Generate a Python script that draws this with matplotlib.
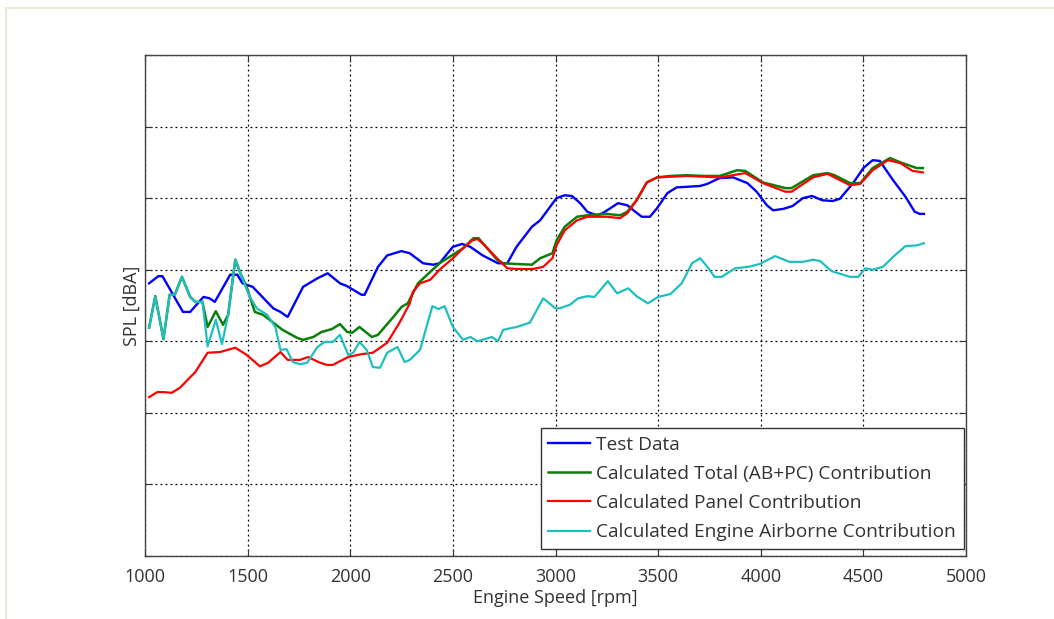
import matplotlib
matplotlib.use("Agg")
import matplotlib.pyplot as plt
from matplotlib.patches import Rectangle

# ---------------- data ----------------
test_rpm = [1020,1065,1085,1185,1220,1285,1315,1340,1415,1450,1475,1525,1625,1660,1695,
            1770,1840,1890,1950,1985,2055,2070,2135,2180,2250,2290,2355,2405,2435,2500,
            2545,2585,2645,2720,2765,2810,2885,2925,3005,3045,3080,3120,3155,3200,3230,
            3305,3350,3380,3420,3460,3495,3545,3590,3705,3740,3800,3865,3935,3980,4030,
            4060,4110,4155,4205,4250,4300,4350,4385,4450,4500,4545,4580,4645,4705,4750,
            4775,4795]
test_spl = [68.1,69.1,69.1,64.1,64.1,66.2,66.0,65.5,69.3,69.3,68.1,67.6,64.6,64.1,63.4,
            67.6,68.8,69.5,68.1,67.7,66.5,66.5,70.4,72.0,72.6,72.3,70.9,70.7,70.9,73.2,
            73.6,73.2,72.0,70.9,70.9,73.2,76.0,76.9,80.0,80.4,80.3,79.3,78.1,77.6,77.9,
            79.3,79.0,78.3,77.4,77.4,78.6,80.7,81.5,81.7,82.0,82.8,82.9,82.1,80.9,79.0,
            78.3,78.5,78.9,80.0,80.3,79.7,79.6,79.9,82.1,84.2,85.3,85.2,82.5,80.2,78.1,
            77.8,77.8]

total_rpm = [1020,1050,1090,1120,1145,1180,1220,1245,1280,1305,1345,1380,1405,1440,1465,
             1495,1535,1575,1625,1670,1740,1770,1820,1860,1910,1950,1985,2010,2045,2105,
             2135,2210,2250,2280,2330,2390,2435,2495,2550,2600,2625,2715,2745,2810,2885,
             2925,2985,3005,3045,3105,3155,3250,3315,3350,3395,3445,3495,3560,3640,3720,
             3800,3885,3925,4010,4120,4150,4255,4325,4360,4435,4485,4545,4630,4680,4760,
             4790]
total_spl = [61.9,66.3,60.3,66.5,66.5,69.0,66.2,65.5,65.5,62.0,64.2,62.3,63.7,71.4,69.5,
             67.6,64.1,63.7,62.6,61.6,60.5,60.2,60.6,61.3,61.7,62.4,61.3,61.2,62.0,60.6,
             60.9,63.4,64.8,65.3,68.1,69.7,70.9,72.0,73.0,74.4,74.4,71.4,70.9,70.8,70.7,
             71.6,72.3,74.1,76.0,77.4,77.6,77.8,77.6,78.1,79.7,82.2,82.9,83.1,83.2,83.1,
             83.1,83.9,83.8,82.2,81.4,81.4,83.2,83.5,83.2,82.1,82.1,84.2,85.6,85.0,84.2,
             84.2]

panel_rpm = [1020,1060,1090,1130,1170,1245,1305,1365,1440,1495,1560,1600,1660,1695,1755,
             1795,1845,1885,1915,1990,2055,2110,2180,2240,2290,2305,2340,2390,2435,2500,
             2550,2595,2620,2655,2715,2765,2810,2890,2940,2985,3005,3045,3105,3155,3250,
             3315,3350,3395,3445,3495,3640,3800,3925,4010,4120,4150,4255,4325,4360,4435,
             4485,4545,4620,4680,4740,4790]
panel_spl = [52.2,52.9,52.9,52.8,53.5,55.7,58.4,58.5,59.1,58.1,56.5,57.0,58.5,57.4,57.4,
             57.8,57.1,56.7,56.7,57.8,58.2,58.4,59.8,62.6,65.3,66.9,68.1,68.6,70.0,71.6,
             73.0,74.1,74.3,73.4,71.6,70.2,70.1,70.1,70.4,71.6,73.4,75.5,76.9,77.4,77.4,
             77.2,77.9,79.7,82.2,82.9,83.1,82.9,83.5,82.1,80.9,80.9,82.9,83.4,82.9,81.8,
             82.0,83.9,85.3,84.9,83.8,83.6]

engine_rpm = [1020,1050,1090,1120,1145,1180,1220,1245,1280,1305,1345,1375,1405,1440,1465,
              1510,1545,1595,1635,1660,1690,1720,1755,1790,1840,1875,1915,1950,1990,2015,
              2045,2080,2110,2145,2180,2230,2265,2290,2340,2400,2430,2460,2500,2550,2585,
              2620,2690,2720,2745,2810,2875,2940,3000,3020,3070,3110,3155,3190,3255,3300,
              3355,3395,3450,3500,3560,3615,3665,3705,3740,3775,3810,3875,3940,3995,4070,
              4140,4205,4255,4290,4345,4435,4475,4510,4545,4595,4645,4705,4760,4795]
engine_spl = [61.9,66.2,60.3,66.5,66.5,69.0,66.2,65.5,65.5,59.3,63.0,59.6,63.7,71.4,69.5,
              66.2,64.6,63.7,62.0,58.8,58.9,57.1,56.8,57.0,59.2,59.9,59.9,60.9,58.1,58.4,
              59.9,58.8,56.4,56.3,58.4,59.2,57.1,57.4,58.8,64.9,64.5,64.9,62.0,60.2,60.6,
              60.0,60.6,60.0,61.6,62.0,62.6,66.0,64.6,64.6,65.1,66.0,66.3,66.2,68.4,66.7,
              67.4,66.3,65.3,66.2,66.6,68.1,70.9,71.6,70.4,69.0,69.0,70.2,70.4,70.8,71.9,
              71.1,71.1,71.4,71.2,69.8,69.0,69.0,70.2,70.0,70.4,71.8,73.3,73.4,73.7]

labels = ["Test Data",
          "Calculated Total (AB+PC) Contribution",
          "Calculated Panel Contribution",
          "Calculated Engine Airborne Contribution"]
x_ticks = [1000, 1500, 2000, 2500, 3000, 3500, 4000, 4500, 5000]
y_ticks = [30, 40, 50, 60, 70, 80, 90, 100]

# ---------------- figure ----------------
plt.rcParams['font.family'] = ['Open Sans', 'DejaVu Sans']
W, H = 1054, 619
fig = plt.figure(figsize=(W / 100, H / 100), dpi=100)
fig.patch.set_facecolor('white')

# faint outer frame of the original image
fig.add_artist(Rectangle((6 / W, -0.1), 1.2, (H - 8) / H + 0.1, transform=fig.transFigure,
                         fill=False, edgecolor='#ece8da', linewidth=1.5))

ax = fig.add_axes([145 / W, 1 - 556 / H, (966 - 145) / W, (556 - 55) / H])

ax.plot(test_rpm, test_spl, color='#0000ff', lw=1.7, label=labels[0])
ax.plot(total_rpm, total_spl, color='#0a800a', lw=1.8, label=labels[1])
ax.plot(panel_rpm, panel_spl, color='#ff0000', lw=1.6, label=labels[2])
ax.plot(engine_rpm, engine_spl, color='#1fbfbf', lw=1.6, label=labels[3])

ax.set_xlim(1000, 5000)
ax.set_ylim(30, 100)
ax.set_xticks(x_ticks)
ax.set_yticks(y_ticks)
ax.set_yticklabels([])
ax.tick_params(direction='in', length=5, width=0.8, top=True, right=True,
               colors='#333333', labelsize=13, labelcolor='#333333', pad=9)
ax.grid(True, color='black', linestyle=(0, (1.5, 2.5)), linewidth=0.9)
for s in ax.spines.values():
    s.set_color('#444444')
    s.set_linewidth(1.0)

ax.set_xlabel("Engine Speed [rpm]", fontsize=13, color='#333333', labelpad=2)
ax.set_ylabel("SPL [dBA]", fontsize=13, color='#333333', labelpad=-6)

leg = ax.legend(loc='lower right', bbox_to_anchor=(0.997, 0.014), fancybox=False,
                framealpha=1, edgecolor='#333333', fontsize=13.8, handlelength=2.2,
                handletextpad=0.3, labelspacing=0.58, borderpad=0.4, borderaxespad=0)
leg.get_frame().set_linewidth(1.0)
for t in leg.get_texts():
    t.set_color('#333333')

fig.savefig("out.png", dpi=100)
